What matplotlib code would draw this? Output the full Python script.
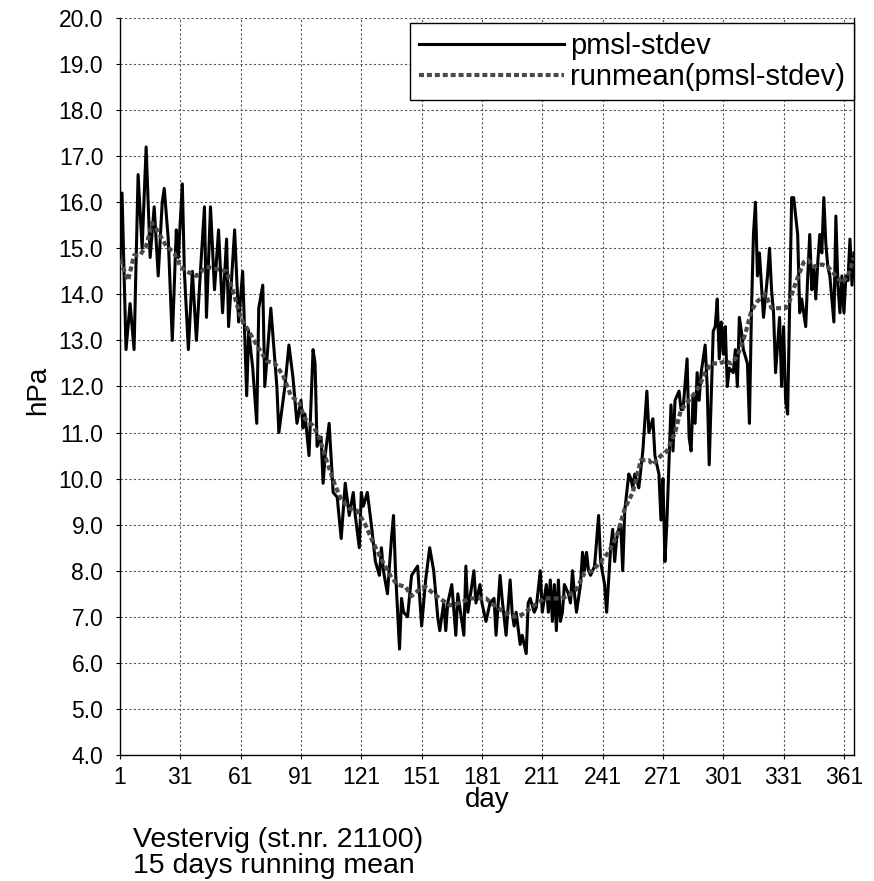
import matplotlib
matplotlib.use("Agg")
import matplotlib.pyplot as plt
import numpy as np

plt.rcParams['font.family'] = ['Liberation Sans', 'DejaVu Sans']

# daily pmsl standard deviation (hPa)
raw_day = [1, 2, 4, 6, 8, 10, 12, 14, 16, 18, 20, 22, 23, 25, 27, 29, 30, 32, 33, 35,
           37, 39, 41, 43, 44, 46, 48, 50, 52, 54, 55, 57, 58, 60, 62, 64, 65, 67, 69, 70,
           72, 73, 76, 79, 80, 83, 85, 87, 89, 91, 92, 93, 95, 97, 98, 99, 101, 102, 103, 105,
           107, 109, 111, 113, 115, 117, 118, 120, 121, 122, 124, 126, 128, 130, 131, 132, 134, 136, 137, 138,
           140, 141, 142, 144, 146, 149, 151, 153, 155, 157, 159, 160, 162, 163, 164, 166, 168, 169, 172, 173,
           174, 177, 178, 180, 181, 183, 185, 187, 188, 190, 191, 193, 195, 196, 197, 198, 200, 201, 203, 204,
           205, 207, 208, 210, 211, 213, 214, 215, 216, 217, 218, 219, 220, 221, 222, 224, 225, 226, 227, 228,
           230, 231, 232, 233, 234, 235, 237, 239, 240, 242, 243, 245, 246, 247, 248, 249, 250, 251, 252, 254,
           255, 256, 257, 259, 261, 263, 264, 266, 267, 269, 270, 271, 272, 273, 275, 276, 277, 279, 280, 281,
           283, 284, 285, 286, 287, 288, 289, 290, 292, 293, 294, 296, 297, 298, 299, 300, 301, 302, 303, 304,
           306, 307, 308, 309, 310, 311, 313, 314, 315, 316, 317, 318, 319, 320, 321, 323, 324, 325, 326, 327,
           329, 330, 331, 332, 333, 334, 335, 336, 338, 339, 340, 342, 343, 344, 345, 346, 347, 348, 349, 350,
           351, 352, 353, 354, 356, 357, 358, 359, 360, 361, 362, 363, 364, 365, 366]
raw_std = [14.7, 16.2, 12.8, 13.8, 12.8, 16.6, 15.0, 17.2, 14.8, 15.9, 14.4, 16.0, 16.3, 15.2, 13.0, 15.4, 14.8, 16.4, 14.5, 12.8,
           14.5, 13.0, 14.5, 15.9, 13.5, 15.9, 14.1, 15.4, 13.6, 15.2, 13.3, 14.7, 15.4, 13.4, 14.5, 11.8, 13.2, 12.4, 11.2, 13.7,
           14.2, 12.0, 13.7, 12.0, 11.0, 12.0, 12.9, 12.2, 11.2, 11.7, 11.1, 11.4, 10.5, 12.8, 12.5, 10.7, 10.9, 9.9, 10.5, 11.2,
           9.7, 9.6, 8.7, 9.9, 9.2, 9.7, 9.2, 8.5, 9.7, 9.4, 9.7, 9.0, 8.2, 7.9, 8.5, 8.0, 7.5, 8.7, 9.2, 8.0,
           6.3, 7.4, 7.1, 7.0, 7.9, 8.1, 6.8, 7.8, 8.5, 8.0, 7.0, 6.7, 7.3, 6.7, 7.3, 7.7, 6.6, 7.5, 6.6, 8.1,
           7.1, 8.0, 7.3, 7.7, 7.3, 6.9, 7.3, 7.4, 6.6, 7.9, 7.4, 6.6, 7.8, 7.1, 6.8, 7.1, 6.4, 6.6, 6.2, 7.3,
           7.4, 7.1, 7.2, 8.0, 7.1, 7.7, 7.1, 7.8, 6.9, 7.7, 6.7, 7.8, 6.9, 7.1, 7.7, 7.5, 7.3, 8.0, 7.5, 7.1,
           7.7, 8.4, 8.0, 8.4, 8.0, 7.9, 8.1, 9.2, 8.2, 7.7, 7.1, 8.5, 8.9, 8.2, 8.7, 8.9, 9.0, 8.0, 9.3, 10.1,
           10.0, 9.8, 10.1, 9.8, 10.6, 11.9, 11.0, 11.3, 10.5, 10.1, 9.1, 10.0, 8.2, 9.1, 11.6, 10.6, 11.7, 11.9, 11.5, 11.5,
           12.6, 10.9, 10.6, 11.8, 11.2, 12.3, 11.7, 12.3, 12.9, 12.0, 10.3, 13.2, 13.3, 13.9, 12.6, 13.4, 12.7, 13.3, 12.0, 12.4,
           12.3, 12.8, 12.0, 13.5, 13.2, 12.8, 12.5, 11.2, 13.6, 15.3, 16.0, 14.4, 14.9, 14.2, 13.5, 14.4, 15.0, 14.1, 13.6, 12.3,
           13.5, 12.0, 13.3, 11.7, 11.4, 13.8, 16.1, 16.1, 15.3, 13.6, 13.9, 13.3, 14.4, 15.3, 14.1, 14.6, 13.9, 14.7, 15.3, 14.9,
           16.1, 15.1, 14.6, 14.4, 13.4, 15.7, 14.2, 13.6, 14.4, 13.6, 14.4, 14.3, 15.2, 14.2, 14.9]

# 15 days running mean
mean_day = [1, 5, 8, 11, 14, 17, 20, 24, 28, 31, 34, 39, 44, 49, 54, 57, 61, 65, 69, 74,
            78, 82, 86, 90, 93, 97, 100, 104, 108, 111, 115, 119, 123, 127, 131, 136, 139, 143, 146, 150,
            153, 157, 160, 165, 170, 175, 179, 183, 187, 192, 197, 201, 207, 212, 216, 220, 224, 228, 232, 236,
            240, 244, 248, 252, 256, 260, 264, 266, 270, 273, 277, 280, 285, 289, 292, 295, 299, 302, 305, 308,
            312, 315, 318, 322, 325, 328, 332, 334, 337, 341, 343, 346, 350, 353, 356, 360, 363, 366]
mean_std = [14.75, 14.3, 14.85, 14.85, 15.05, 15.55, 15.35, 15.05, 14.9, 14.6, 14.5, 14.4, 14.6, 14.55, 14.5, 14.1, 13.5, 13.2, 12.9, 12.55,
            12.5, 12.25, 11.8, 11.65, 11.3, 11.15, 10.9, 10.35, 9.85, 9.55, 9.35, 9.3, 9.0, 8.6, 8.25, 7.85, 7.7, 7.65, 7.45, 7.6,
            7.65, 7.5, 7.4, 7.25, 7.3, 7.4, 7.4, 7.4, 7.25, 7.1, 7.0, 7.05, 7.25, 7.4, 7.4, 7.4, 7.45, 7.6, 7.95, 8.0,
            8.2, 8.4, 8.75, 9.35, 9.7, 10.4, 10.4, 10.3, 10.5, 10.6, 11.0, 11.5, 11.75, 12.0, 12.3, 12.5, 12.5, 12.55, 12.5, 12.65,
            13.15, 13.65, 13.85, 14.0, 13.7, 13.7, 13.7, 13.85, 14.25, 14.7, 14.75, 14.6, 14.65, 14.6, 14.45, 14.25, 14.4, 14.8]

x_ticks = [1, 31, 61, 91, 121, 151, 181, 211, 241, 271, 301, 331, 361]
y_ticks = np.arange(4, 21, 1)

fig = plt.figure(figsize=(8.74, 8.81), dpi=100)
ax = fig.add_axes([0.1373, 0.1430, 0.8398, 0.8366])

ax.plot(raw_day, raw_std, color='black', lw=2.2, label='pmsl-stdev', zorder=3)
ax.plot(mean_day, mean_std, color='#4a4a4a', lw=3.0, linestyle=(0, (1.2, 0.7)),
        label='runmean(pmsl-stdev)', zorder=4)

ax.set_xlim(1, 366)
ax.set_ylim(4, 20)
ax.set_xticks(x_ticks)
ax.set_yticks(y_ticks)
ax.set_yticklabels(['%.1f' % v for v in y_ticks])
ax.tick_params(axis='y', labelsize=16.5, length=3, pad=9)
ax.tick_params(axis='x', labelsize=16.5, length=3, pad=5)
ax.grid(True, color='#555555', linestyle=(0, (2, 2)), lw=0.8)
ax.set_axisbelow(True)
ax.spines['top'].set_visible(False)
for s in ['left', 'bottom', 'right']:
    ax.spines[s].set_linewidth(1.0)

ax.set_xlabel('day', fontsize=20)
ax.xaxis.set_label_coords(0.5, -0.043)
ax.set_ylabel('hPa', fontsize=20, va='center')
ax.yaxis.set_label_coords(-0.112, 0.495)

leg = ax.legend(loc='upper right', bbox_to_anchor=(1.0, 0.993), borderaxespad=0,
                fontsize=21, handlelength=5.0, handletextpad=0.2, borderpad=0.3,
                labelspacing=0.1, fancybox=False, framealpha=1, edgecolor='black')
leg.get_frame().set_linewidth(1.0)

fig.text(0.152, 0.0386, 'Vestervig (st.nr. 21100)', fontsize=20.5, va='baseline')
fig.text(0.152, 0.0091, '15 days running mean', fontsize=20.5, va='baseline')

fig.savefig('out.png', dpi=100)
